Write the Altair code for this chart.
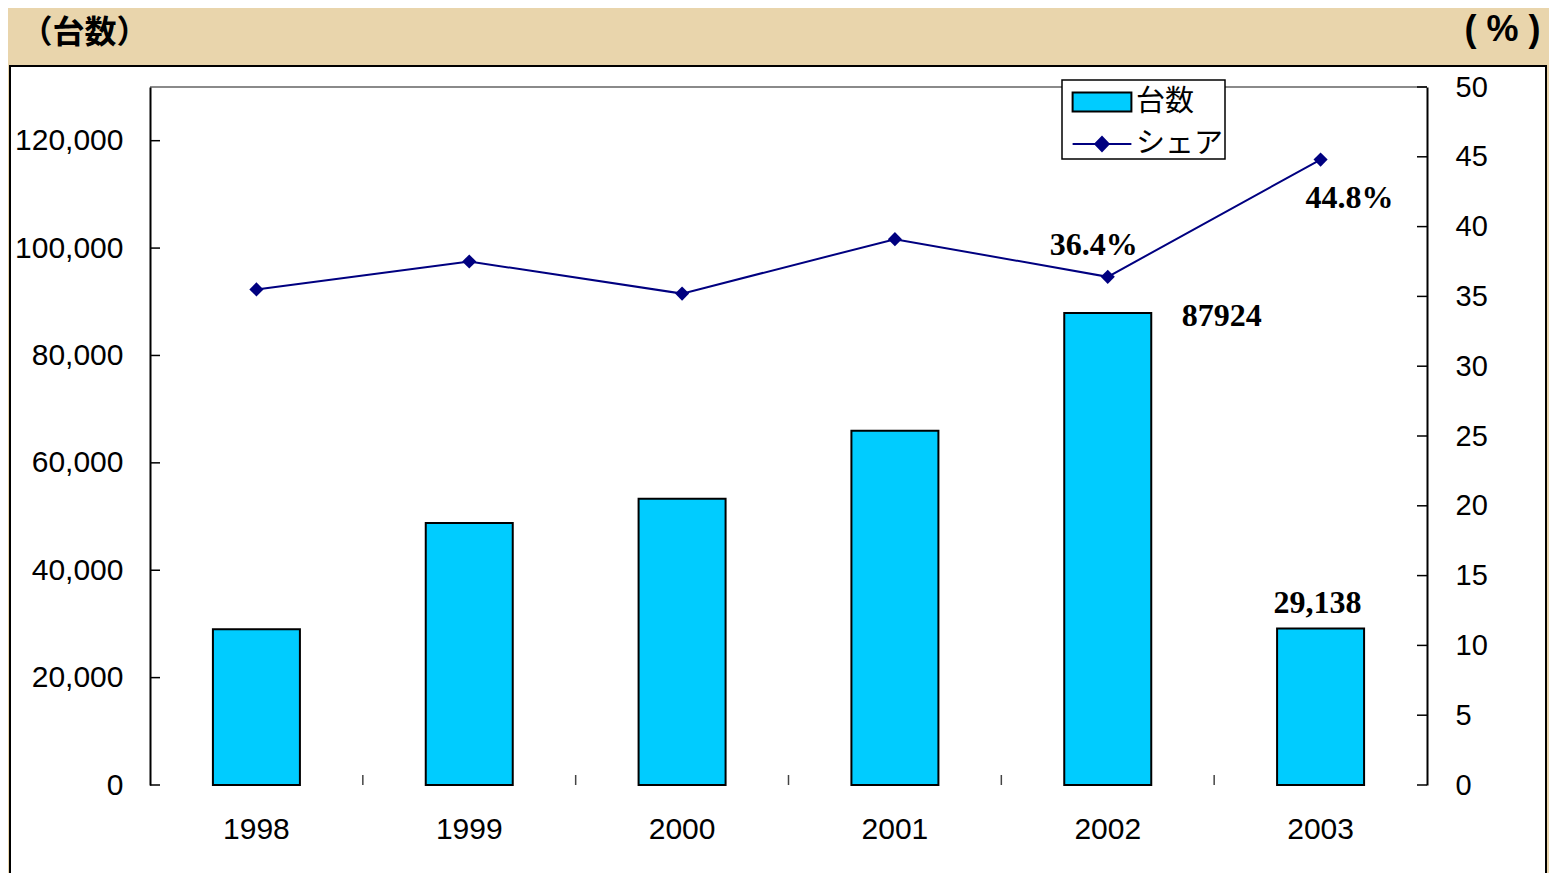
import altair as alt
import pandas as pd

# ---------------- data ----------------
years = ['1998', '1999', '2000', '2001', '2002', '2003']
units = [29000, 48800, 53300, 66000, 87924, 29138]
share = [35.5, 37.5, 35.2, 39.1, 36.4, 44.8]
unit_labels = ['', '', '', '', '87924', '29,138']
share_labels = ['', '', '', '', '36.4%', '44.8%']
series_bar = '台数'
series_line = 'シェア'
units_ticks = [0, 20000, 40000, 60000, 80000, 100000, 120000]
share_ticks = [0, 5, 10, 15, 20, 25, 30, 35, 40, 45, 50]
units_max = 130000
share_max = 50
left_title = '（台数）'
right_title = '( % )'

# ---------------- style ----------------
W, H = 1277, 698
BAR = '#00CCFF'
NAVY = '#000080'
SANS = 'Liberation Sans'
CJK = 'Noto Sans CJK JP'
SERIF = 'Liberation Serif'
BG = '#e9d5ac'
RECT_PATH = 'M-1.4,-0.45H1.4V0.45H-1.4Z'
LINE_PATH = 'M-1.4,0H-0.32L0,-0.34L0.32,0L0,0.34L-0.32,0M0.32,0H1.4'

df = pd.DataFrame({'year': years, 'units': units, 'share': share,
                   'ulabel': unit_labels, 'slabel': share_labels,
                   'sb': series_bar, 'sl': series_line})
one = pd.DataFrame({'k': [0]})
ut = pd.DataFrame({'v': units_ticks})
st = pd.DataFrame({'v': share_ticks})
bt = pd.DataFrame({'year': years[1:]})

xscale = alt.Scale(domain=years, paddingInner=0, paddingOuter=0)
uscale = alt.Scale(domain=[0, units_max], nice=False, zero=True)
sscale = alt.Scale(domain=[0, share_max], nice=False, zero=True)

xaxis = alt.Axis(title=None, labels=False, ticks=False,
                 domainColor='#222222', domainWidth=2, zindex=1)
X = alt.X('year:N', scale=xscale, sort=years, axis=xaxis)
Yu = alt.Y('units:Q', scale=uscale, axis=None)
Ys = alt.Y('share:Q', scale=sscale, axis=None)

leg_common = dict(orient='none', title=None, padding=0, labelFontSize=29, labelFont=CJK,
                  labelColor='black', labelOffset=12, symbolSize=1764, symbolOffset=18,
                  rowPadding=0, zindex=2)
leg_bar = alt.Legend(legendX=912, legendY=-7, symbolType=RECT_PATH,
                     symbolStrokeColor='black', symbolStrokeWidth=2,
                     symbolFillColor=BAR, symbolOpacity=1, **leg_common)
leg_line = alt.Legend(legendX=912, legendY=35, symbolType=LINE_PATH,
                      symbolStrokeColor=NAVY, symbolStrokeWidth=2,
                      symbolFillColor=NAVY, symbolOpacity=1, **leg_common)

panel = alt.Chart(one).mark_rect(fill='white', stroke='black', strokeWidth=2).encode(
    x=alt.value(-140), x2=alt.value(1396), y=alt.value(-21), y2=alt.value(H + 110))

top_border = alt.Chart(one).mark_rule(color='#8a8a8a', strokeWidth=2).encode(
    x=alt.value(0), x2=alt.value(W), y=alt.value(0))

bars = alt.Chart(df).mark_bar(size=87, stroke='black', strokeWidth=2).encode(
    x=X,
    y=alt.Y('units:Q', scale=uscale,
            axis=alt.Axis(orient='left', values=units_ticks, format=',.0f', title=left_title,
                          titleAngle=0, titleX=-130, titleY=-55, titleAlign='left',
                          titleBaseline='middle', titleFont=CJK, titleFontSize=32,
                          titleFontWeight='bold', titleColor='black',
                          labelFont=SANS, labelFontSize=30, labelColor='black',
                          labelPadding=27, ticks=False, domainColor='black',
                          domainWidth=2, grid=False, zindex=1)),
    color=alt.Color('sb:N', scale=alt.Scale(domain=[series_bar], range=[BAR]),
                    legend=leg_bar),
)

lt = alt.Chart(ut).mark_rule(color='black', strokeWidth=1.5).encode(
    y=alt.Y('v:Q', scale=uscale, axis=None), x=alt.value(0), x2=alt.value(10))
rt = alt.Chart(st).mark_rule(color='black', strokeWidth=1.5).encode(
    y=alt.Y('v:Q', scale=sscale, axis=None), x=alt.value(W - 10), x2=alt.value(W))
btk = alt.Chart(bt).mark_rule(color='#444444', strokeWidth=1.5).encode(
    x=alt.X('year:N', scale=xscale, sort=years, bandPosition=0, axis=None),
    y=alt.value(H - 10), y2=alt.value(H))

# category labels under the x axis
xlabels = alt.Chart(df).mark_text(font=SANS, fontSize=30, color='black',
                                  baseline='middle').encode(
    x=X, y=alt.value(H + 45), text='year:N')

line = alt.Chart(df).mark_line(strokeWidth=2).encode(
    x=X,
    y=alt.Y('share:Q', scale=sscale,
            axis=alt.Axis(orient='right', values=share_ticks, title=right_title,
                          titleAngle=0, titleX=37, titleY=-58, titleAlign='left',
                          titleBaseline='middle', titleFont=SANS, titleFontSize=36,
                          titleFontWeight='bold', titleColor='black',
                          labelFont=SANS, labelFontSize=29, labelColor='black',
                          labelPadding=28, ticks=False, domainColor='black',
                          domainWidth=2, grid=False, zindex=1)),
    stroke=alt.Stroke('sl:N', scale=alt.Scale(domain=[series_line], range=[NAVY]),
                      legend=leg_line),
)
pts = alt.Chart(df).mark_point(shape='diamond', filled=True, color=NAVY, size=200,
                               opacity=1).encode(x=X, y=Ys)

# legend frame (decoration)
legend_box = alt.Chart(one).mark_rect(fill='white', stroke='black', strokeWidth=1.5).encode(
    x=alt.value(912), x2=alt.value(1075), y=alt.value(-7), y2=alt.value(72))

tstyle = dict(font=SERIF, fontSize=32, fontWeight='bold', color='black', baseline='middle')
t1 = alt.Chart(df).transform_filter(alt.datum.year == '2002').mark_text(
    dx=114, dy=3, **tstyle).encode(x=X, y=Yu, text='ulabel:N')
t2 = alt.Chart(df).transform_filter(alt.datum.year == '2003').mark_text(
    dx=-3, dy=-26, **tstyle).encode(x=X, y=Yu, text='ulabel:N')
t3 = alt.Chart(df).transform_filter(alt.datum.year == '2002').mark_text(
    dx=-14, dy=-32, **tstyle).encode(x=X, y=Ys, text='slabel:N')
t4 = alt.Chart(df).transform_filter(alt.datum.year == '2003').mark_text(
    dx=29, dy=38, **tstyle).encode(x=X, y=Ys, text='slabel:N')

chart = alt.layer(panel, top_border, bars, lt, rt, btk, xlabels, line, pts, legend_box,
                  t1, t2, t3, t4).resolve_scale(
    y='independent'
).properties(
    width=W, height=H,
    padding={'left': 142, 'top': 79, 'right': 122, 'bottom': 88},
    autosize=alt.AutoSizeParams(type='none'),
    background=BG,
).configure_view(strokeWidth=0)

chart.save('out.html', embed_options={'renderer': 'svg', 'actions': False})
